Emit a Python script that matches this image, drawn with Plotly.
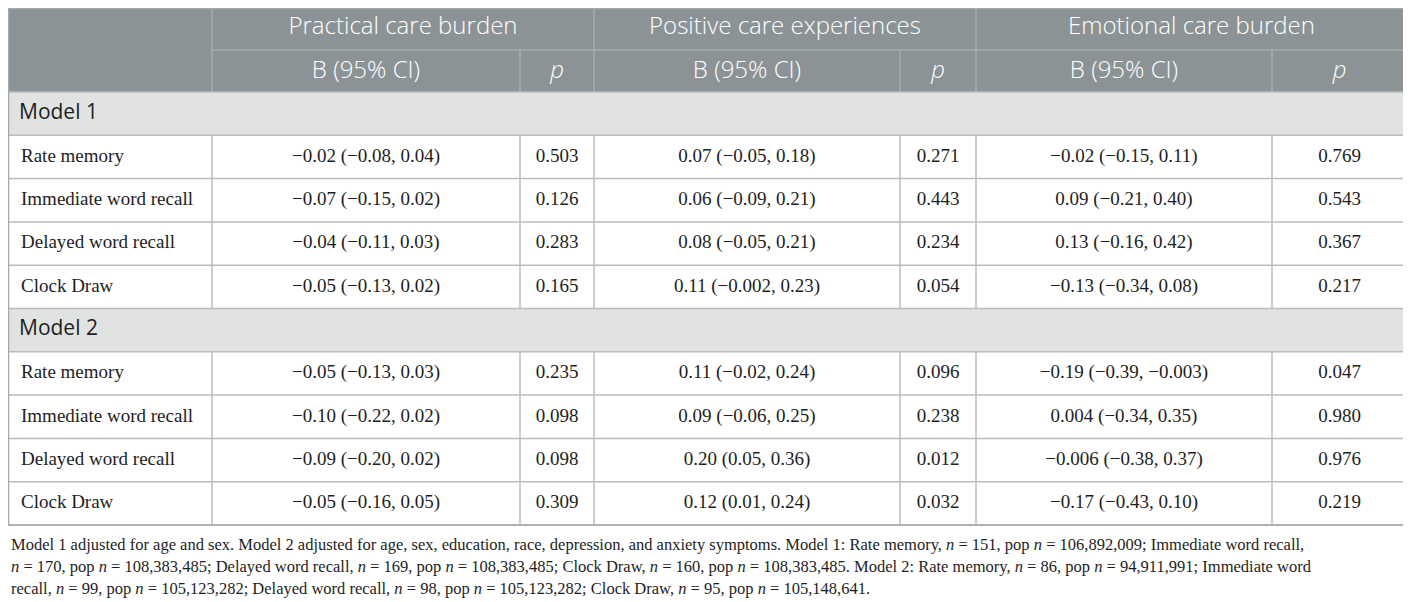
import plotly.graph_objects as go

# ---- table content ----
OUTCOMES = ["Practical care burden", "Positive care experiences", "Emotional care burden"]
MEASURES = ["Rate memory", "Immediate word recall", "Delayed word recall", "Clock Draw"]
MODELS = ["Model 1", "Model 2"]

# B (95% CI) and p per outcome, rows follow MEASURES
m1_practical_b = ["−0.02 (−0.08, 0.04)", "−0.07 (−0.15, 0.02)", "−0.04 (−0.11, 0.03)", "−0.05 (−0.13, 0.02)"]
m1_practical_p = ["0.503", "0.126", "0.283", "0.165"]
m1_positive_b = ["0.07 (−0.05, 0.18)", "0.06 (−0.09, 0.21)", "0.08 (−0.05, 0.21)", "0.11 (−0.002, 0.23)"]
m1_positive_p = ["0.271", "0.443", "0.234", "0.054"]
m1_emotional_b = ["−0.02 (−0.15, 0.11)", "0.09 (−0.21, 0.40)", "0.13 (−0.16, 0.42)", "−0.13 (−0.34, 0.08)"]
m1_emotional_p = ["0.769", "0.543", "0.367", "0.217"]

m2_practical_b = ["−0.05 (−0.13, 0.03)", "−0.10 (−0.22, 0.02)", "−0.09 (−0.20, 0.02)", "−0.05 (−0.16, 0.05)"]
m2_practical_p = ["0.235", "0.098", "0.098", "0.309"]
m2_positive_b = ["0.11 (−0.02, 0.24)", "0.09 (−0.06, 0.25)", "0.20 (0.05, 0.36)", "0.12 (0.01, 0.24)"]
m2_positive_p = ["0.096", "0.238", "0.012", "0.032"]
m2_emotional_b = ["−0.19 (−0.39, −0.003)", "0.004 (−0.34, 0.35)", "−0.006 (−0.38, 0.37)", "−0.17 (−0.43, 0.10)"]
m2_emotional_p = ["0.047", "0.980", "0.976", "0.219"]

FOOTNOTE = [
    "Model 1 adjusted for age and sex. Model 2 adjusted for age, sex, education, race, depression, and anxiety symptoms. "
    "Model 1: Rate memory, <i>n</i> = 151, pop <i>n</i> = 106,892,009; Immediate word recall,",
    "<i>n</i> = 170, pop <i>n</i> = 108,383,485; Delayed word recall, <i>n</i> = 169, pop <i>n</i> = 108,383,485; "
    "Clock Draw, <i>n</i> = 160, pop <i>n</i> = 108,383,485. Model 2: Rate memory, <i>n</i> = 86, pop <i>n</i> = 94,911,991; Immediate word",
    "recall, <i>n</i> = 99, pop <i>n</i> = 105,123,282; Delayed word recall, <i>n</i> = 98, pop <i>n</i> = 105,123,282; "
    "Clock Draw, <i>n</i> = 95, pop <i>n</i> = 105,148,641.",
]

model_cols = [
    [m1_practical_b, m1_practical_p, m1_positive_b, m1_positive_p, m1_emotional_b, m1_emotional_p],
    [m2_practical_b, m2_practical_p, m2_positive_b, m2_positive_p, m2_emotional_b, m2_emotional_p],
]

# ---- geometry / styles (axis units = window pixels) ----
W, H = 1411, 602
BODY_MARGIN = 8  # default page margin around the plot div
COL_EDGES = [8.5, 212, 520, 594, 900, 976, 1272, 1407]
HEAD_TOP, HEAD_MID, HEAD_BOT = 8.5, 50, 92
ROW_H = 43.3
HEAD_BG = "#8c9396"
HEAD_LINE = "#a7acae"
MODEL_BG = "#e1e3e2"
GRID = "#bcbcbc"
TEXT = "#1e1e1e"
SANS = "Open Sans"
SERIF = "Liberation Serif"

fig = go.Figure()
shapes = []

# row edges: model row + 4 measures per model
rows = []  # (top, bottom, kind, payload)
y = HEAD_BOT
for mi, model in enumerate(MODELS):
    rows.append((y, y + ROW_H, "model", model))
    y += ROW_H
    for ri in range(len(MEASURES)):
        rows.append((y, y + ROW_H, "data", (mi, ri)))
        y += ROW_H
TABLE_BOT = y

# header background
shapes.append(dict(type="rect", x0=COL_EDGES[0], x1=COL_EDGES[-1], y0=HEAD_TOP, y1=HEAD_BOT,
                   fillcolor=HEAD_BG, line=dict(width=0), layer="below"))
# header lines
shapes.append(dict(type="line", x0=COL_EDGES[1], x1=COL_EDGES[-1], y0=HEAD_MID, y1=HEAD_MID,
                   line=dict(color=HEAD_LINE, width=1.5)))
for k, xe in enumerate(COL_EDGES[1:-1], start=1):
    y0 = HEAD_TOP if k % 2 == 1 else HEAD_MID
    shapes.append(dict(type="line", x0=xe, x1=xe, y0=y0, y1=HEAD_BOT,
                       line=dict(color=HEAD_LINE, width=1.5)))

# body
for top, bot, kind, payload in rows:
    if kind == "model":
        shapes.append(dict(type="rect", x0=COL_EDGES[0], x1=COL_EDGES[-1], y0=top, y1=bot,
                           fillcolor=MODEL_BG, line=dict(width=0), layer="below"))
    else:
        for xe in COL_EDGES[1:-1]:
            shapes.append(dict(type="line", x0=xe, x1=xe, y0=top, y1=bot,
                               line=dict(color=GRID, width=1.5)))
    shapes.append(dict(type="line", x0=COL_EDGES[0], x1=COL_EDGES[-1], y0=bot, y1=bot,
                       line=dict(color=GRID, width=1.5)))
shapes.append(dict(type="line", x0=COL_EDGES[0], x1=COL_EDGES[-1], y0=HEAD_BOT, y1=HEAD_BOT,
                   line=dict(color=GRID, width=1.5)))

# outer border
shapes.append(dict(type="rect", x0=COL_EDGES[0], x1=COL_EDGES[-1], y0=HEAD_TOP, y1=TABLE_BOT,
                   line=dict(color="#a4a9ab", width=1.5)))

# header texts
grp_x = [(COL_EDGES[1 + 2 * g] + COL_EDGES[3 + 2 * g]) / 2 for g in range(len(OUTCOMES))]
fig.add_trace(go.Scatter(x=grp_x, y=[28] * len(OUTCOMES), mode="text",
                         text=OUTCOMES, textfont=dict(family=SANS, size=24, color="white", weight=300),
                         hoverinfo="skip"))
sub_x = [(COL_EDGES[i] + COL_EDGES[i + 1]) / 2 for i in range(1, len(COL_EDGES) - 1)]
sub_t = ["B (95% CI)", "<i>p</i>"] * len(OUTCOMES)
fig.add_trace(go.Scatter(x=sub_x, y=[(HEAD_MID + HEAD_BOT) / 2 + 1] * len(sub_x), mode="text",
                         text=sub_t, textfont=dict(family=SANS, size=24, color="white", weight=300),
                         hoverinfo="skip"))

# body texts
lab_x, lab_y, lab_t = [], [], []
mod_x, mod_y, mod_t = [], [], []
val_x, val_y, val_t = [], [], []
for top, bot, kind, payload in rows:
    yc = (top + bot) / 2
    if kind == "model":
        mod_x.append(19); mod_y.append(yc); mod_t.append(payload)
    else:
        mi, ri = payload
        lab_x.append(21); lab_y.append(yc); lab_t.append(MEASURES[ri])
        for ci, col in enumerate(model_cols[mi]):
            val_x.append(sub_x[ci]); val_y.append(yc); val_t.append(col[ri])

fig.add_trace(go.Scatter(x=mod_x, y=mod_y, mode="text", text=mod_t, textposition="middle right",
                         textfont=dict(family=SANS, size=21, color=TEXT), hoverinfo="skip"))
fig.add_trace(go.Scatter(x=lab_x, y=lab_y, mode="text", text=lab_t, textposition="middle right",
                         textfont=dict(family=SERIF, size=19, color=TEXT), hoverinfo="skip"))
fig.add_trace(go.Scatter(x=val_x, y=val_y, mode="text", text=val_t,
                         textfont=dict(family=SERIF, size=19, color=TEXT), hoverinfo="skip"))

# footnote
annotations = []
for i, line in enumerate(FOOTNOTE):
    annotations.append(dict(x=BODY_MARGIN + 1, y=544 + 22 * i, xref="x", yref="y", text=line,
                            showarrow=False, xanchor="left", yanchor="middle",
                            font=dict(family=SERIF, size=16.5, color=TEXT)))

fig.update_layout(
    width=W - BODY_MARGIN, height=H - BODY_MARGIN,
    margin=dict(l=0, r=0, t=0, b=0),
    paper_bgcolor="white", plot_bgcolor="white",
    showlegend=False,
    shapes=shapes,
    annotations=annotations,
    xaxis=dict(range=[BODY_MARGIN, W], visible=False, fixedrange=True),
    yaxis=dict(range=[H, BODY_MARGIN], visible=False, fixedrange=True),
)

fig.write_html("out.html")
